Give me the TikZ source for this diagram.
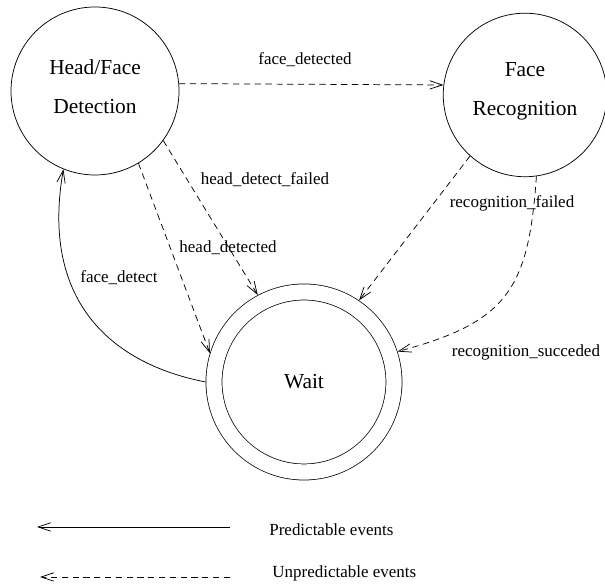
\documentclass[tikz,border=0pt]{standalone}
\usepackage{fontspec}
\setmainfont{Liberation Serif}
\usetikzlibrary{arrows.meta}

\begin{document}
\begin{tikzpicture}[>={Straight Barb[length=0.42cm,width=0.28cm]}, line width=0.7pt,
		state/.style={circle, draw, align=center, inner sep=0pt, font=\fontsize{20.3}{36.9}\selectfont},
		unpred/.style={dash pattern=on 0.21cm off 0.15cm},
		evt/.style={inner sep=0pt, font=\fontsize{16.1}{19}\selectfont}]
		%\draw [help lines] (0,0) grid (20,19);
		\useasboundingbox (0,0) rectangle (20.167,19.533);

		\node [state, minimum size=5.6cm, text depth=0.3cm] (head) at (3.167,16.5) {Head/Face\\Detection};
		\node [state, minimum size=5.45cm, text depth=0.4cm] (facerec) at (17.5,16.367) {Face\\Recognition};
		\node [state, minimum size=6cm, double, double distance=0.51cm, outer sep=0.28cm] (wait) at (10.133,6.8) {Wait};

		\draw [->, unpred] (head.5) -- (facerec.173);
		\draw [->, unpred] (head.-36) -- (wait.118);
		\draw [->, unpred] (head.-59) -- (wait.163);
		\draw [->] (wait.180) to [out=169, in=-100, out looseness=1, in looseness=1.3] (head.-112);
		\draw [->, unpred] (facerec.228) -- (wait.56);
		\draw [->, unpred] (facerec.-82) to [out=-94, in=15, looseness=1.3] (wait.18);

		\node [evt] (fdlabel) at (10.167,17.533) {face\_detected};
		\node [evt] (hflabel) at (8.833,13.533) {head\_detect\_failed};
		\node [evt] (hdlabel) at (7.6,11.267) {head\_detected};
		\node [evt] (fclabel) at (3.967,10.267) {face\_detect};
		\node [evt] (rflabel) at (17.067,12.767) {recognition\_failed};
		\node [evt] (rslabel) at (17.533,7.8) {recognition\_succeded};

		% legend
		\coordinate (pe1) at (7.667,1.967);
		\coordinate (pe2) at (1.233,1.967);
		\coordinate (ue1) at (7.667,0.3);
		\coordinate (ue2) at (1.333,0.3);
		\draw [->] (pe1) -- (pe2);
		\draw [->, unpred] (ue1) -- (ue2);
		\node [evt, anchor=west] (pelabel) at (8.967,1.867) {Predictable events};
		\node [evt, anchor=west] (uelabel) at (9.067,0.433) {Unpredictable events};
	\end{tikzpicture}
\end{document}
